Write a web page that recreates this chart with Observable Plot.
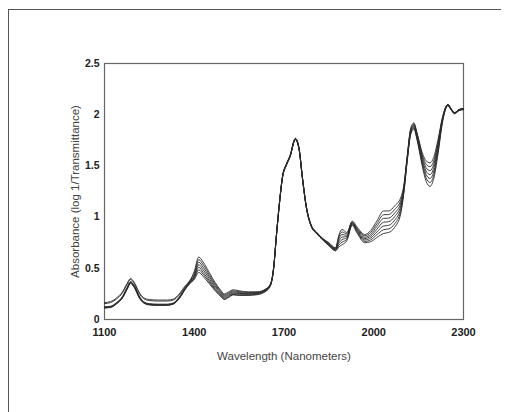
<!DOCTYPE html>
<html>
<head>
<meta charset="utf-8">
<script src="https://cdn.jsdelivr.net/npm/d3@7"></script>
<script src="https://cdn.jsdelivr.net/npm/@observablehq/plot@0.6"></script>
<style>
  html, body { margin: 0; padding: 0; background: #fff; }
  #wrap { position: relative; width: 512px; height: 412px; overflow: hidden; }
  #border { position: absolute; left: 8px; top: 9px; width: 492px; height: 420px;
            border-top: 1.5px solid #555; border-left: 1.5px solid #555; }
  #wrap svg { position: absolute; left: 0; top: 0; }
</style>
</head>
<body>
<div id="wrap"><div id="border"></div></div>
<script>
const wavelengths = [1100,1120,1140,1160,1175,1187,1200,1215,1230,1250,1280,1310,1330,1350,1370,1385,1400,1415,1430,1450,1470,1490,1500,1515,1530,1550,1580,1610,1640,1655,1665,1675,1685,1695,1708,1720,1738,1750,1762,1775,1790,1810,1830,1850,1872,1884,1894,1910,1928,1945,1970,1990,2010,2033,2050,2070,2090,2100,2112,2123,2134,2145,2162,2175,2188,2200,2215,2230,2248,2258,2270,2285,2300];

const sample1 = [.165,.175,.21,.27,.35,.40,.36,.27,.215,.195,.19,.19,.20,.25,.33,.38,.47,.61,.56,.46,.36,.28,.25,.27,.29,.28,.27,.27,.30,.35,.50,.84,1.15,1.40,1.52,1.60,1.77,1.68,1.38,1.10,.93,.85,.79,.75,.70,.83,.88,.85,.96,.90,.83,.87,.96,1.06,1.06,1.11,1.19,1.30,1.60,1.86,1.92,1.82,1.63,1.55,1.53,1.58,1.76,1.98,2.10,2.06,2.02,2.05,2.06];
const sample2 = [.155,.165,.20,.26,.34,.39,.35,.26,.205,.185,.18,.18,.19,.24,.32,.375,.45,.585,.535,.44,.345,.27,.24,.26,.28,.272,.265,.266,.297,.347,.497,.837,1.147,1.397,1.517,1.597,1.767,1.677,1.377,1.097,.927,.847,.787,.745,.695,.81,.855,.837,.953,.89,.817,.852,.933,1.023,1.025,1.075,1.163,1.287,1.592,1.85,1.91,1.808,1.608,1.517,1.492,1.545,1.737,1.972,2.10,2.06,2.02,2.05,2.06];
const sample3 = [.125,.13,.165,.225,.31,.37,.33,.235,.177,.155,.15,.15,.162,.22,.31,.37,.43,.56,.51,.42,.33,.26,.23,.25,.27,.263,.258,.262,.293,.344,.495,.835,1.145,1.395,1.515,1.595,1.765,1.675,1.375,1.095,.925,.845,.785,.74,.69,.79,.83,.823,.947,.88,.803,.833,.907,.987,.99,1.04,1.137,1.273,1.583,1.84,1.90,1.797,1.587,1.483,1.453,1.51,1.713,1.963,2.10,2.06,2.02,2.05,2.06];
const sample4 = [.12,.125,.16,.22,.305,.365,.325,.23,.172,.15,.145,.146,.158,.215,.305,.365,.42,.535,.485,.40,.315,.25,.22,.24,.26,.255,.252,.257,.289,.341,.492,.832,1.142,1.392,1.512,1.592,1.762,1.672,1.372,1.092,.922,.842,.782,.735,.685,.77,.805,.81,.94,.87,.79,.815,.88,.95,.955,1.005,1.11,1.26,1.575,1.83,1.89,1.785,1.565,1.45,1.415,1.475,1.69,1.955,2.095,2.055,2.015,2.045,2.055];
const sample5 = [.117,.122,.157,.215,.30,.36,.32,.225,.168,.147,.142,.143,.155,.21,.30,.36,.41,.51,.46,.38,.30,.24,.21,.23,.252,.248,.246,.252,.285,.338,.49,.83,1.14,1.39,1.51,1.59,1.76,1.67,1.37,1.09,.92,.84,.78,.73,.68,.75,.78,.797,.933,.86,.777,.797,.853,.913,.92,.97,1.083,1.247,1.567,1.82,1.88,1.773,1.543,1.417,1.377,1.44,1.667,1.947,2.095,2.055,2.015,2.045,2.055];
const sample6 = [.115,.12,.155,.212,.295,.355,.315,.22,.165,.145,.14,.141,.152,.207,.297,.355,.40,.485,.44,.365,.29,.23,.20,.222,.245,.24,.24,.247,.281,.335,.487,.827,1.137,1.387,1.507,1.587,1.757,1.667,1.367,1.087,.917,.837,.777,.725,.675,.73,.755,.783,.927,.85,.763,.778,.827,.877,.885,.935,1.057,1.233,1.558,1.81,1.87,1.762,1.522,1.383,1.338,1.405,1.643,1.938,2.09,2.05,2.01,2.04,2.05];
const sample7 = [.112,.117,.152,.21,.29,.35,.31,.217,.163,.142,.138,.139,.15,.205,.295,.35,.39,.46,.42,.35,.28,.22,.195,.215,.24,.235,.235,.242,.277,.332,.485,.825,1.135,1.385,1.505,1.585,1.755,1.665,1.365,1.085,.915,.835,.775,.72,.67,.71,.73,.77,.92,.84,.75,.76,.80,.84,.85,.90,1.03,1.22,1.55,1.80,1.86,1.75,1.50,1.35,1.30,1.37,1.62,1.93,2.09,2.05,2.01,2.04,2.05];

const seriesNames = ["1","2","3","4","5","6","7"];
const seriesValues = [sample1, sample2, sample3, sample4, sample5, sample6, sample7];
const xTicks = [1100, 1400, 1700, 2000, 2300];
const yTicks = [0, 0.5, 1, 1.5, 2, 2.5];
const xTitle = "Wavelength (Nanometers)";
const yTitle = "Absorbance (log 1/Transmittance)";

const rows = [];
seriesValues.forEach((vals, si) => {
  vals.forEach((v, i) => rows.push({series: seriesNames[si], wl: wavelengths[i], a: v}));
});

const chart = Plot.plot({
  width: 512,
  height: 412,
  marginLeft: 104,
  marginRight: 49,
  marginTop: 63,
  marginBottom: 93,
  style: {fontFamily: "Liberation Sans, Arial, sans-serif", background: "transparent"},
  x: {domain: [1100, 2300], ticks: xTicks, tickFormat: d3.format("d"), label: null},
  y: {domain: [0, 2.5], ticks: yTicks, tickFormat: d => String(d), label: null},
  marks: [
    Plot.frame({stroke: "#666", strokeWidth: 1.2}),
    Plot.axisX({ticks: xTicks, tickFormat: d3.format("d"), tickSize: 0, tickPadding: 9, fontSize: 11, fontWeight: "bold", fill: "#222", label: null}),
    Plot.axisY({ticks: yTicks, tickFormat: d => String(d), tickSize: 0, tickPadding: 5, fontSize: 10.5, fontWeight: "bold", fill: "#222", label: null}),
    Plot.line(rows, {x: "wl", y: "a", z: "series", stroke: "#2a2a2a", strokeWidth: 0.9, curve: "monotone-x"}),
    Plot.text([xTitle], {frameAnchor: "bottom", dy: 40, text: d => d, fontSize: 11.5, fill: "#444"}),
    Plot.text([yTitle], {frameAnchor: "left", dx: -29, rotate: -90, textAnchor: "middle", text: d => d, fontSize: 11.5, fill: "#444"})
  ]
});
document.getElementById("wrap").appendChild(chart);
</script>
</body>
</html>
